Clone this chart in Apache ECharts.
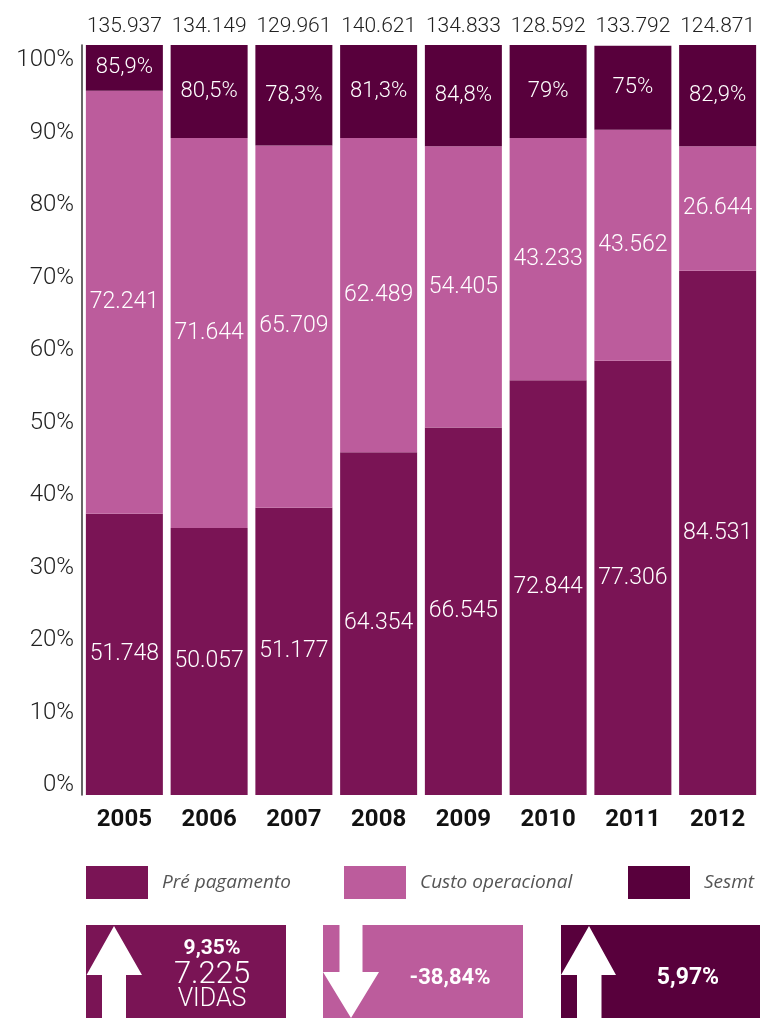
<!DOCTYPE html>
<html><head><meta charset="utf-8">
<script src="https://cdn.jsdelivr.net/npm/echarts@6/dist/echarts.min.js"></script>
<style>html,body{margin:0;padding:0;background:#fff}#c{width:760px;height:1018px}</style>
</head><body><div id="c"></div>
<script>
const years = ['2005','2006','2007','2008','2009','2010','2011','2012'];
const totals = ['135.937','134.149','129.961','140.621','134.833','128.592','133.792','124.871'];
const preLabels = ['51.748','50.057','51.177','64.354','66.545','72.844','77.306','84.531'];
const custoLabels = ['72.241','71.644','65.709','62.489','54.405','43.233','43.562','26.644'];
const sesmtLabels = ['85,9%','80,5%','78,3%','81,3%','84,8%','79%','75%','82,9%'];
const preShare = [37.5, 35.6, 38.3, 45.7, 49.0, 55.3, 57.9, 69.9];
const custoShare = [56.4, 52.0, 48.3, 41.9, 37.5, 32.3, 30.8, 16.6];
const sesmtShare = [6.1, 12.4, 13.4, 12.4, 13.5, 12.4, 11.2, 13.5];
const seriesNames = ['Pré pagamento','Custo operacional','Sesmt'];
const changeLabels = ['9,35%','-38,84%','5,97%'];
const livesLabels = ['7.225','VIDAS'];

const C_PRE = '#7a1455', C_CUSTO = '#bc5c9c', C_SESMT = '#58003c';
const FONT = 'Roboto';

const chart = echarts.init(document.getElementById('c'));

function barLabel(arr, size){
  return {show:true, position:'inside', formatter:p=>arr[p.dataIndex], color:'#fff',
          fontFamily:FONT, fontWeight:300, fontSize:size};
}
function legendFor(name, left){
  return {data:[name], left:left, top:866, padding:0, itemWidth:62, itemHeight:33, icon:'rect',
          selectedMode:false,
          textStyle:{fontFamily:'Open Sans', fontStyle:'italic', fontSize:19, color:'#555', padding:[0,0,0,9]}};
}

const option = {
  animation:false,
  backgroundColor:'#fff',
  grid:[
    {left:82, top:45, width:682.4, height:750},
    {left:82, top:60, width:10, height:725}
  ],
  legend:[legendFor(seriesNames[0],86), legendFor(seriesNames[1],344), legendFor(seriesNames[2],628)],
  xAxis:[
    {type:'category', gridIndex:0, data:years, axisLine:{show:false}, axisTick:{show:false},
     axisLabel:{interval:0, margin:13, fontFamily:FONT, fontWeight:'bold', fontSize:24, color:'#111'}},
    {type:'category', gridIndex:0, position:'top', data:totals, axisLine:{show:false}, axisTick:{show:false},
     axisLabel:{interval:0, margin:8, fontFamily:FONT, fontWeight:300, fontSize:21, color:'#222'}},
    {type:'value', gridIndex:1, show:false}
  ],
  yAxis:[
    {type:'value', gridIndex:0, min:0, max:100, axisLine:{show:true, lineStyle:{color:'#333', width:1.5}},
     axisTick:{show:false}, axisLabel:{show:false}, splitLine:{show:false}},
    {type:'value', gridIndex:1, min:0, max:100, interval:10, axisLine:{show:false}, axisTick:{show:false},
     splitLine:{show:false},
     axisLabel:{formatter:'{value}%', margin:8, fontFamily:FONT, fontWeight:300, fontSize:24, color:'#222'}}
  ],
  series:[
    {name:seriesNames[0], type:'bar', stack:'s', xAxisIndex:0, yAxisIndex:0, barWidth:77, data:preShare,
     itemStyle:{color:C_PRE}, label:barLabel(preLabels,23)},
    {name:seriesNames[1], type:'bar', stack:'s', xAxisIndex:0, yAxisIndex:0, barWidth:77, data:custoShare,
     itemStyle:{color:C_CUSTO}, label:barLabel(custoLabels,23)},
    {name:seriesNames[2], type:'bar', stack:'s', xAxisIndex:0, yAxisIndex:0, barWidth:77, data:sesmtShare,
     itemStyle:{color:C_SESMT}, label:barLabel(sesmtLabels,22)}
  ],
  graphic:[
    {type:'rect', shape:{x:86, y:925, width:200, height:93}, style:{fill:C_PRE}},
    {type:'polygon', shape:{points:[[114,926],[142,975],[126,975],[126,1018],[102,1018],[102,975],[86.5,975]]}, style:{fill:'#fff'}},
    {type:'text', x:212, y:949, style:{text:changeLabels[0], fill:'#fff', font:'bold 21px '+FONT, textAlign:'center', textVerticalAlign:'middle'}},
    {type:'text', x:212, y:975, style:{text:livesLabels[0], fill:'#fff', font:'300 31px '+FONT, textAlign:'center', textVerticalAlign:'middle'}},
    {type:'text', x:212, y:1000, style:{text:livesLabels[1], fill:'#fff', font:'300 25px '+FONT, textAlign:'center', textVerticalAlign:'middle'}},

    {type:'rect', shape:{x:323, y:925, width:200, height:93}, style:{fill:C_CUSTO}},
    {type:'polygon', shape:{points:[[339.5,925],[362.5,925],[362.5,972],[379,972],[351,1018],[323,972],[339.5,972]]}, style:{fill:'#fff'}},
    {type:'text', x:450, y:978, style:{text:changeLabels[1], fill:'#fff', font:'bold 22px '+FONT, textAlign:'center', textVerticalAlign:'middle'}},

    {type:'rect', shape:{x:561, y:925, width:199, height:93}, style:{fill:C_SESMT}},
    {type:'polygon', shape:{points:[[589,926],[616,975],[601.5,975],[601.5,1018],[577,1018],[577,975],[561,975]]}, style:{fill:'#fff'}},
    {type:'text', x:688, y:978, style:{text:changeLabels[2], fill:'#fff', font:'bold 23px '+FONT, textAlign:'center', textVerticalAlign:'middle'}}
  ]
};
chart.setOption(option);
</script>
</body></html>
